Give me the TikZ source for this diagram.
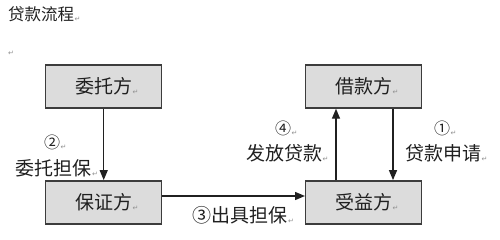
\documentclass[tikz,border=0pt]{standalone}
\usepackage{fontspec}
\newfontfamily\cjk{Noto Sans CJK SC}
\newfontfamily\dv{DejaVu Sans}
\usetikzlibrary{arrows.meta}
\definecolor{boxfill}{HTML}{DCDCDC}
\definecolor{boxline}{HTML}{3C3C3C}
\definecolor{txt}{HTML}{202020}
\definecolor{pmark}{HTML}{909090}
\newcommand{\parmark}{\rlap{\hspace{0.5pt}\raisebox{-1pt}{\dv\fontsize{7}{7}\selectfont\color{pmark}↵}}}
\tikzset{
  party/.style={draw=boxline, fill=boxfill, line width=1.4pt, minimum width=116pt, minimum height=43pt, inner sep=0pt, font=\cjk\fontsize{19}{19}\selectfont, text=txt},
  lbl/.style={inner sep=0pt, font=\cjk\fontsize{19}{19}\selectfont, text=txt},
  num/.style={inner sep=0pt, font=\cjk\fontsize{16}{16}\selectfont, text=txt},
  arr/.style={line width=1.4pt, draw=txt, -{Triangle[length=10pt,width=8pt]}, shorten >=0pt}
}
\begin{document}
\begin{tikzpicture}[x=1pt,y=-1pt]
\useasboundingbox[fill=white] (0,0) rectangle (500,239);
\node[inner sep=0pt, font=\cjk\fontsize{16.5}{16.5}\selectfont, text=txt, anchor=west] (title) at (8,14.5) {贷款流程\parmark};
\node[inner sep=0pt] (blank) at (11,53) {\dv\fontsize{7}{7}\selectfont\color{pmark}↵};
\node[party] (wt) at (103.7,86.5) {委托方\parmark};
\node[party] (jk) at (363.7,86.5) {借款方\parmark};
\node[party] (bz) at (103.7,202.3) {保证方\parmark};
\node[party] (sy) at (363.7,202.3) {受益方\parmark};
\draw[arr] (wt) -- (bz);
\draw[arr] ([yshift=6.3pt]bz.east) -- ([yshift=6.3pt]sy.west);
\draw[arr] ([xshift=-27.7pt]sy.north) -- ([xshift=-27.7pt]jk.south);
\draw[arr] ([xshift=29.3pt]jk.south) -- ([xshift=29.3pt]sy.north);
\node[num] (n2) at (52,142) {②\parmark};
\node[lbl] (l2) at (53.5,168) {委托担保\parmark};
\node[lbl] (l3) at (240,215) {③出具担保\parmark};
\node[num] (n4) at (283,128) {④\parmark};
\node[lbl] (l4) at (284,153) {发放贷款\parmark};
\node[num] (n1) at (442,128) {①\parmark};
\node[lbl] (l1) at (443,153) {贷款申请\parmark};
\end{tikzpicture}
\end{document}
